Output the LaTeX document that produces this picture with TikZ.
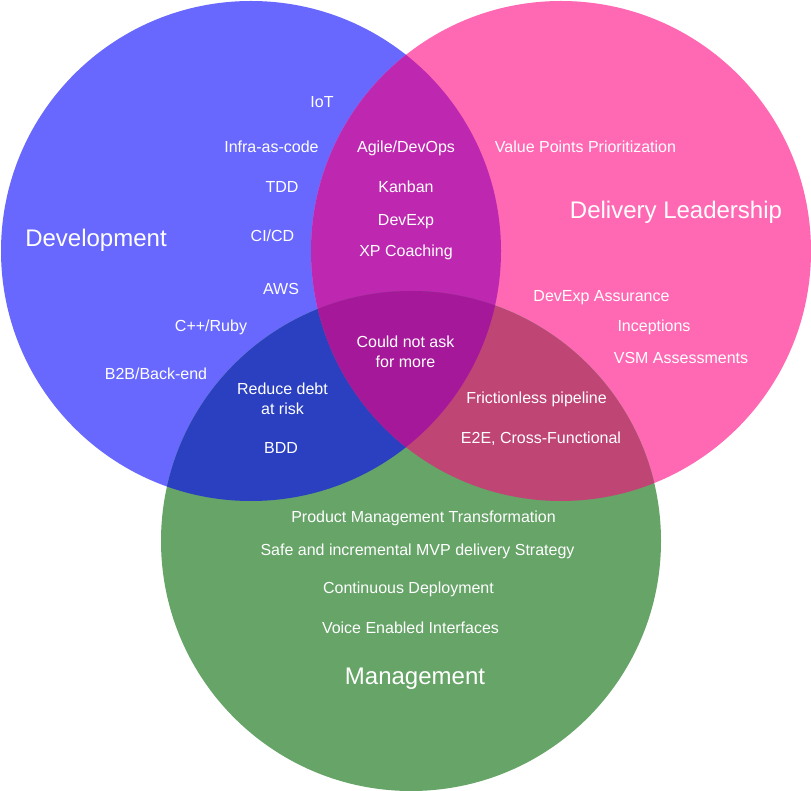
\documentclass[tikz,border=0pt]{standalone}
\usepackage{fontspec}
\setmainfont{Liberation Sans}
\definecolor{cblue}{HTML}{6868FF}
\definecolor{cpink}{HTML}{FF69B4}
\definecolor{cgreen}{HTML}{66A468}
\definecolor{cbp}{HTML}{BE28B0}
\definecolor{cbg}{HTML}{2A40C0}
\definecolor{cpg}{HTML}{BF4575}
\definecolor{cbpg}{HTML}{A6189A}
\begin{document}
\begin{tikzpicture}[x=1pt,y=-1pt,
  lbl/.style={text=white,font=\fontsize{16}{19}\selectfont,anchor=base,inner sep=0pt},
  ttl/.style={text=white,font=\fontsize{24}{28}\selectfont,anchor=base,inner sep=0pt}]
\useasboundingbox (0,0) rectangle (811,791);
\def\cB{(251,251) circle[radius=250]}
\def\cP{(561,251) circle[radius=250]}
\def\cG{(411,541) circle[radius=250]}
% base circles
\fill[cblue] \cB;
\fill[cpink] \cP;
\fill[cgreen] \cG;
% pairwise overlaps
\begin{scope}\clip \cB; \fill[cbp] \cP; \end{scope}
\begin{scope}\clip \cB; \fill[cbg] \cG; \end{scope}
\begin{scope}\clip \cP; \fill[cpg] \cG; \end{scope}
% triple overlap
\begin{scope}\clip \cB; \clip \cP; \fill[cbpg] \cG; \end{scope}
% titles
\node[ttl] (tdev) at (96,246.5) {Development};
\node[ttl] (tdel) at (676,218.5) {Delivery Leadership};
\node[ttl] (tman) at (415,684.5) {Management};
% development only
\node[lbl] (iot) at (322,107.5) {IoT};
\node[lbl] (infra) at (271.5,152.5) {Infra-as-code};
\node[lbl] (tdd) at (282,192.5) {TDD};
\node[lbl] (cicd) at (272.5,242) {CI/CD};
\node[lbl] (aws) at (281,295) {AWS};
\node[lbl] (cpp) at (211,332) {C++/Ruby};
\node[lbl] (b2b) at (156,380) {B2B/Back-end};
% development + delivery
\node[lbl] (agile) at (406,152.5) {Agile/DevOps};
\node[lbl] (kanban) at (406,192.5) {Kanban};
\node[lbl] (devexp) at (406,225.5) {DevExp};
\node[lbl] (xp) at (406,257) {XP Coaching};
% delivery only
\node[lbl] (value) at (585.5,152.5) {Value Points Prioritization};
\node[lbl] (assur) at (601.5,302) {DevExp Assurance};
\node[lbl] (incep) at (654,332) {Inceptions};
\node[lbl] (vsm) at (681,363) {VSM Assessments};
% all three
\node[lbl] (could1) at (405.5,348) {Could not ask};
\node[lbl] (could2) at (405.5,367) {for more};
% development + management
\node[lbl] (reduce1) at (282.5,395) {Reduce debt};
\node[lbl] (reduce2) at (282.5,414) {at risk};
\node[lbl] (bdd) at (281,453) {BDD};
% delivery + management
\node[lbl] (fric) at (536.5,403) {Frictionless pipeline};
\node[lbl] (e2e) at (541,443) {E2E, Cross-Functional};
% management only
\node[lbl] (pmt) at (423.5,522) {Product Management Transformation};
\node[lbl] (safe) at (417.5,555) {Safe and incremental MVP delivery Strategy};
\node[lbl] (cont) at (408.5,593) {Continuous Deployment};
\node[lbl] (voice) at (410.5,633) {Voice Enabled Interfaces};
\end{tikzpicture}
\end{document}
